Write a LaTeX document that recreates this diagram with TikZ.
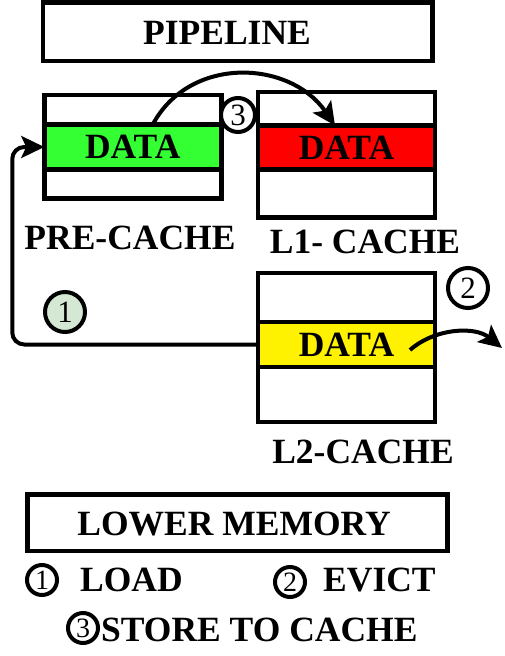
\documentclass[tikz,border=0pt]{standalone}
\usepackage{fontspec}
\setmainfont{Liberation Serif}
\usetikzlibrary{positioning,arrows.meta}

\definecolor{pregreen}{RGB}{51,255,51}
\definecolor{loadgreen}{RGB}{213,232,212}
\newcommand{\bigbold}{\fontsize{35.5}{37}\selectfont\bfseries}

\tikzset{
  cell/.style={draw, line width=4.5pt, minimum width=177pt, inner sep=0pt, outer sep=0pt, font=\bigbold},
  membox/.style={draw, line width=4.5pt, inner sep=0pt, outer sep=0pt, font=\bigbold},
  label/.style={inner sep=0pt, font=\bigbold},
  num/.style={circle, draw, line width=4pt, fill=white, inner sep=0pt, font=\fontsize{31}{32}\selectfont},
  flow/.style={line width=4pt, -{Stealth[length=23pt,width=22pt,inset=5pt]}}
}

\begin{document}
\begin{tikzpicture}[x=1pt,y=-1pt]
   \useasboundingbox (0,0) rectangle (504,656);

   % pipeline and lower memory
   \node[membox, minimum width=389.5pt, minimum height=58.5pt] (pipeline) at (237.75,31.75) {};
   \node[label] at (227,33) {PIPELINE};
   \node[membox, minimum width=420pt, minimum height=56.5pt] (lowmem) at (237.5,522.75) {};
   \node[label] at (234,524) {LOWER MEMORY};

   % pre-cache
   \node[cell, fill=pregreen, minimum height=45pt] (predata) at (132.75,147) {DATA};
   \node[cell, minimum height=29.5pt, above=0pt of predata] (pretop) {};
   \node[cell, minimum height=29pt, below=0pt of predata] (prebot) {};
   \node[label] at (130,238) {PRE-CACHE};

   % L1 cache
   \node[cell, fill=red, minimum height=44pt] (lonedata) at (346.5,147.5) {DATA};
   \node[cell, minimum height=33.5pt, above=0pt of lonedata] (lonetop) {};
   \node[cell, minimum height=48pt, below=0pt of lonedata] (lonebot) {};
   \node[label] at (365,242) {L1- CACHE};

   % L2 cache
   \node[cell, fill=yellow, minimum height=45pt] (ltwodata) at (346.5,344.5) {DATA};
   \node[cell, minimum height=49pt, above=0pt of ltwodata] (ltwotop) {};
   \node[cell, minimum height=55pt, below=0pt of ltwodata] (ltwobot) {};
   \node[label] at (363,452) {L2-CACHE};

   % load
   \draw[flow, rounded corners=12pt] (ltwodata.west) -| ([xshift=-32pt]predata.west) -- (predata.west);
   \node[num, fill=loadgreen, minimum size=40pt] (nload) at (65,312) {1};

   % evict
   \coordinate (evictend) at (502,348);
   \draw[flow] ([shift={(63.5,5.5)}]ltwodata.center) .. controls (435,328) and (475,326) .. (evictend);
   \node[num, minimum size=40pt] (nevict) at (468,288) {2};

   % store to cache
   \draw[flow] ([xshift=20pt]predata.north) .. controls (190,55) and (290,60) .. ([xshift=-11.5pt]lonedata.north);
   \node[num, minimum size=34pt] (nstore) at (238,115) {3};

   % legend
   \node[num, minimum size=30pt, font=\fontsize{28}{30}\selectfont] (keyload) at (42,580) {1};
   \node[label, anchor=west] at (80,580) {LOAD};
   \node[num, minimum size=30pt, font=\fontsize{28}{30}\selectfont] (keyevict) at (290,582) {2};
   \node[label, anchor=west] at (323,580) {EVICT};
   \node[num, minimum size=30pt, font=\fontsize{28}{30}\selectfont] (keystore) at (83,628) {3};
   \node[label, anchor=west] at (101,630) {STORE TO CACHE};
\end{tikzpicture}
\end{document}
